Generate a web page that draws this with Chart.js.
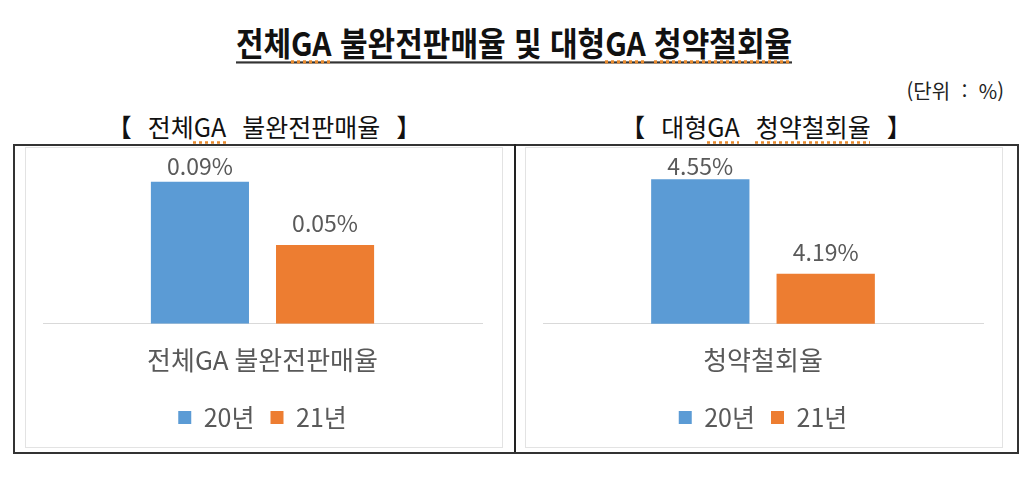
<!DOCTYPE html>
<html lang="ko">
<head>
<meta charset="utf-8">
<script src="https://cdn.jsdelivr.net/npm/chart.js@4/dist/chart.umd.min.js"></script>
<style>
  body { margin: 0; background: #fff; font-family: "Noto Sans CJK KR", "Noto Sans", sans-serif; color: #111; }
  #page { position: relative; width: 1032px; height: 486px; overflow: hidden; }
  .abs { position: absolute; white-space: nowrap; }
  #title { left: 0; width: 1028px; top: 24px; text-align: center; font-size: 30px; font-weight: bold; line-height: 36px; }
  #title span.t { border-bottom: 2px solid #333; display: inline-block; transform: scaleY(1.08); }
  .sq { text-decoration: underline dotted #e8892b; text-underline-offset: 4px; }
  #unit { right: 28px; top: 76px; font-size: 20px; color: #222; word-spacing: 6px; }
  .head { top: 110px; font-size: 25px; line-height: 32px; text-align: center; color: #111; word-spacing: 9px; }
  #box { left: 13px; top: 144px; width: 1002px; height: 306px; border: 2px solid #333; }
  #divider { left: 514px; top: 144px; width: 2px; height: 308px; background: #222; }
  .frame { top: 147px; width: 476px; height: 299px; border: 1px solid #e3e3e3; background: #fff; }
</style>
</head>
<body>
<div id="page">
  <div id="title" class="abs"><span class="t">전체<span class="sq">GA</span> 불완전판매율 및 대형<span class="sq">GA</span> <span class="sq">청약철회율</span></span></div>
  <div id="unit" class="abs">(단위 : %)</div>
  <div class="abs head" style="left:13px;width:502px;">【 전체<span class="sq">GA</span> 불완전판매율 】</div>
  <div class="abs head" style="left:515px;width:502px;">【 대형<span class="sq">GA</span> <span class="sq">청약철회율</span> 】</div>
  <div id="box" class="abs"></div>
  <div id="divider" class="abs"></div>
  <div class="abs frame" style="left:25px;"><canvas id="chartA" width="476" height="299"></canvas></div>
  <div class="abs frame" style="left:525px;"><canvas id="chartB" width="476" height="299"></canvas></div>
</div>
<script>
// data
const seriesNames = ['20년', '21년'];
const seriesColors = ['#5B9BD5', '#ED7D31'];

const gaCategory = ['전체GA 불완전판매율'];
const gaValues = [0.09, 0.05];

const withdrawCategory = ['청약철회율'];
const withdrawValues = [4.55, 4.19];

const textGray = '#595959';

// draws the value labels above each bar
const barLabels = {
  id: 'barLabels',
  afterDatasetsDraw(chart) {
    const ctx = chart.ctx;
    ctx.save();
    ctx.font = '23px "Noto Sans CJK KR", "Noto Sans", sans-serif';
    ctx.fillStyle = textGray;
    ctx.textAlign = 'center';
    ctx.textBaseline = 'middle';
    chart.data.datasets.forEach((ds, i) => {
      chart.getDatasetMeta(i).data.forEach((bar, j) => {
        const y = Math.max(bar.y - 22, chart.chartArea.top);
        ctx.fillText(ds.data[j].toFixed(2) + '%', bar.x, y);
      });
    });
    ctx.restore();
  }
};

const makeChart = (canvasId, category, values, yMin, yMax, padRight) => {
  return new Chart(document.getElementById(canvasId), {
    type: 'bar',
    data: {
      labels: category,
      datasets: values.map((v, i) => ({
        label: seriesNames[i],
        data: [v],
        backgroundColor: seriesColors[i],
        borderWidth: 0,
        categoryPercentage: 0.57,
        barPercentage: 0.784,
      })),
    },
    options: {
      responsive: false,
      animation: false,
      layout: { padding: { top: 18, left: 17, right: padRight, bottom: 7 } },
      scales: {
        x: {
          grid: { display: false },
          border: { display: true, color: '#D9D9D9', width: 1 },
          ticks: { color: textGray, padding: 13, font: { size: 26, lineHeight: 1.2, family: '"Noto Sans CJK KR", sans-serif' } },
        },
        y: {
          display: false,
          min: yMin,
          max: yMax,
        },
      },
      plugins: {
        legend: {
          position: 'bottom',
          labels: {
            color: textGray,
            boxWidth: 13,
            boxHeight: 13,
            padding: 16,
            font: { size: 25, family: '"Noto Sans CJK KR", sans-serif' },
          },
        },
        tooltip: { enabled: false },
      },
    },
    plugins: [barLabels],
  });
};

makeChart('chartA', gaCategory, gaValues, 0, 0.1, 20);
makeChart('chartB', withdrawCategory, withdrawValues, 4.0, 4.6, 19);
</script>
</body>
</html>
